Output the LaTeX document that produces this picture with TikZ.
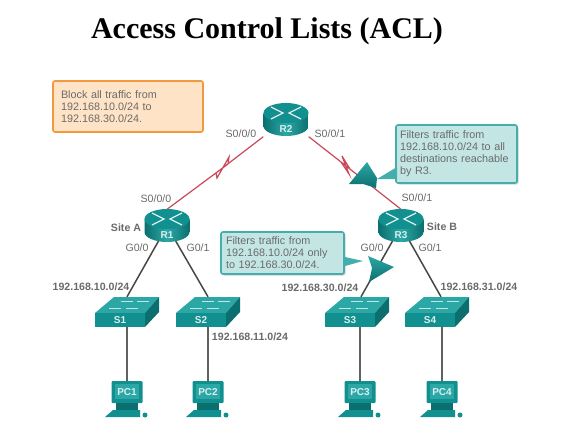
\documentclass[tikz,border=0pt]{standalone}
\usepackage{fontspec}
\setmainfont{Liberation Sans}
\newfontfamily\titlefont{Liberation Serif}
\usetikzlibrary{calc,backgrounds,shadows}

\definecolor{devteal}{HTML}{12908F}
\definecolor{devlight}{HTML}{2BA8A6}
\definecolor{devdark}{HTML}{0B6F6F}
\definecolor{labelgray}{HTML}{6A6A6A}
\definecolor{serialred}{HTML}{C9485A}
\definecolor{noteteal}{HTML}{C3E6E4}
\definecolor{noteline}{HTML}{45ADAB}

\tikzset{
  portlabel/.style={text=labelgray, font=\fontsize{10.6}{12}\selectfont, inner sep=0pt},
  netlabel/.style={text=labelgray, font=\bfseries\fontsize{10.6}{12}\selectfont, inner sep=0pt},
  devtext/.style={text=white!85!devteal, font=\bfseries\fontsize{10}{12}\selectfont, inner sep=0pt},
  routernode/.style={minimum width=45pt, minimum height=33pt, inner sep=0pt},
  switchnode/.style={minimum width=64pt, minimum height=30pt, inner sep=0pt},
  pcnode/.style={minimum width=31pt, minimum height=22pt, inner sep=0pt},
  note/.style={align=left, text=labelgray, font=\fontsize{10.8}{12}\selectfont, rounded corners=2pt, line width=1.6pt},
  lan/.style={draw=black!72, line width=1.5pt},
  pclink/.style={draw=black!62, line width=1.4pt},
  serial/.style={draw=serialred, line width=1.2pt},
  filtercone/.style={top color=devlight, bottom color=devdark, draw=none},
  routerbody/.pic={
    \path[left color=devdark, right color=devdark, middle color=devlight]
      (-22.5,-7) -- (-22.5,6) arc[start angle=180, end angle=360, x radius=22.5pt, y radius=10pt] -- (22.5,-7) -- cycle;
    \fill[devteal] (0,-7) ellipse[x radius=22.5pt, y radius=10pt];
    \draw[white!85!devteal, line width=1.3pt] (-15,-13) -- (-3,-7) -- (-15,-1);
    \draw[white!85!devteal, line width=1.3pt] (15,-13) -- (3,-7) -- (15,-1);
  },
  switchbody/.pic={
    \fill[devlight] (-32,1) -- (-13,-15) -- (32,-15) -- (18,1) -- cycle;
    \fill[devteal] (-32,1) -- (18,1) -- (18,15) -- (-32,15) -- cycle;
    \fill[devdark] (18,1) -- (32,-15) -- (32,0) -- (18,15) -- cycle;
    \draw[white!75!devteal, line width=0.8pt] (-6,-11) -- (6,-11) (10,-11) -- (22,-11);
    \draw[white!75!devteal, line width=0.8pt] (-18,-4) -- (-6,-4) (-1,-4) -- (11,-4);
  },
  pcbody/.pic={
    \fill[devteal, rounded corners=1pt] (-15.5,-11) rectangle (15.5,11);
    \fill[devlight] (-12,-8) rectangle (12,7);
    \fill[devdark] (-11,11) rectangle (11,18);
    \fill[devteal] (-14,18) -- (13,18) -- (13,25) -- (-22,25) -- cycle;
    \fill[devteal] (18,23) ellipse[x radius=2.5pt, y radius=2.5pt];
  }
}

\begin{document}
\begin{tikzpicture}[x=1pt,y=-1pt]
    \useasboundingbox (0,0) rectangle (574,439);

    % Title
    \node[font=\titlefont\bfseries\fontsize{30}{32}\selectfont, inner sep=0pt] (title) at (267,31) {Access Control Lists (ACL)};

    % Routers
    \pic at (286,120) {routerbody};
    \pic at (167,226) {routerbody};
    \pic at (401,226) {routerbody};
    \node[routernode, label={[devtext, yshift=-9pt]center:R2}] (R2) at (286,120) {};
    \node[routernode, label={[devtext, yshift=-9pt]center:R1}] (R1) at (167,226) {};
    \node[routernode, label={[devtext, yshift=-9pt]center:R3}] (R3) at (401,226) {};

    % Switches
    \pic at (127,312) {switchbody};
    \pic at (208,312) {switchbody};
    \pic at (357,312) {switchbody};
    \pic at (437,312) {switchbody};
    \node[switchnode, label={[devtext, xshift=-7pt, yshift=-8pt]center:S1}] (S1) at (127,312) {};
    \node[switchnode, label={[devtext, xshift=-7pt, yshift=-8pt]center:S2}] (S2) at (208,312) {};
    \node[switchnode, label={[devtext, xshift=-7pt, yshift=-8pt]center:S3}] (S3) at (357,312) {};
    \node[switchnode, label={[devtext, xshift=-7pt, yshift=-8pt]center:S4}] (S4) at (437,312) {};

    % PCs
    \pic at (127,392) {pcbody};
    \pic at (208,392) {pcbody};
    \pic at (360,392) {pcbody};
    \pic at (442,392) {pcbody};
    \node[pcnode, devtext] (PC1) at (127,392) {PC1};
    \node[pcnode, devtext] (PC2) at (208,392) {PC2};
    \node[pcnode, devtext] (PC3) at (360,392) {PC3};
    \node[pcnode, devtext] (PC4) at (442,392) {PC4};

    % Links
    \coordinate (boltA) at (228,164);
    \coordinate (boltB) at (229,157);
    \coordinate (boltC) at (217,178);
    \coordinate (boltD) at (216,173);
    \coordinate (boltE) at (350,169);
    \coordinate (boltF) at (342,156);
    \coordinate (boltG) at (349,174);
    \coordinate (boltH) at (341,162);
    \begin{scope}[on background layer]
      \draw[serial] (R1.north) -- (boltA) -- (boltB) -- (boltC) -- (boltD) -- (R2.south west);
      \draw[serial] (R2.south east) -- (boltE) -- (boltF) -- (boltG) -- (boltH) -- (R3.north);
      \draw[lan] (R1.center) -- (S1.north);
      \draw[lan] (R1.center) -- (S2.north);
      \draw[lan] (R3.center) -- ($(S3.north)+(4,0)$);
      \draw[lan] (R3.center) -- ($(S4.north)+(4,0)$);
      \draw[pclink] (S1.south -| PC1.north) -- (PC1.north);
      \draw[pclink] (S2.south -| PC2.north) -- (PC2.north);
      \draw[pclink] (S3.south -| PC3.north) -- (PC3.north);
      \draw[pclink] (S4.south -| PC4.north) -- (PC4.north);
    \end{scope}

    % Notes
    \node[note, draw=orange!75!brown!80, fill=orange!22, minimum width=150pt, minimum height=51pt, text width=134pt, inner sep=0pt] (block) at (128,106.5)
      {Block all traffic from\\192.168.10.0/24 to\\192.168.30.0/24.};
    \node[note, draw=noteline, fill=noteteal, drop shadow={shadow xshift=1.5pt, shadow yshift=-1.5pt, fill=black!35}, minimum width=121pt, minimum height=58pt, text width=113pt, inner sep=0pt] (filterB) at (456.5,154)
      {Filters traffic from\\192.168.10.0/24 to all\\destinations reachable\\by R3.};
    \node[note, draw=noteline, fill=noteteal, drop shadow={shadow xshift=1.5pt, shadow yshift=-1.5pt, fill=black!35}, minimum width=123pt, minimum height=42pt, text width=113pt, inner sep=0pt] (filterA) at (282.5,253)
      {Filters traffic from\\192.168.10.0/24 only\\to 192.168.30.0/24.};

    % Callout tails and filter cones
    \fill[noteline] (397,167) -- (397,179) -- (377,179) -- cycle;
    \fill[noteline] (345,257) -- (345,266) -- (363,261) -- cycle;
    \path[filtercone] (367,162) -- (377,178) -- (376,188) -- (363,184) -- (349,184) -- cycle;
    \path[filtercone] (368,256) -- (394,267) -- (369,282) -- (372,268) -- cycle;

    % Port labels
    \node[portlabel] (l1) at (241,134) {S0/0/0};
    \node[portlabel] (l2) at (330,134) {S0/0/1};
    \node[portlabel] (l3) at (156,199) {S0/0/0};
    \node[portlabel] (l4) at (417,198) {S0/0/1};
    \node[portlabel] (l5) at (137,248) {G0/0};
    \node[portlabel] (l6) at (198,248) {G0/1};
    \node[portlabel] (l7) at (372,248) {G0/0};
    \node[portlabel] (l8) at (430,248) {G0/1};
    \node[netlabel] (siteA) at (126,228) {Site A};
    \node[netlabel] (siteB) at (442,227) {Site B};

    % Networks
    \node[netlabel] (net10) at (91,287) {192.168.10.0/24};
    \node[netlabel] (net11) at (250,337) {192.168.11.0/24};
    \node[netlabel] (net30) at (320,288) {192.168.30.0/24};
    \node[netlabel] (net31) at (479,287) {192.168.31.0/24};
\end{tikzpicture}
\end{document}
